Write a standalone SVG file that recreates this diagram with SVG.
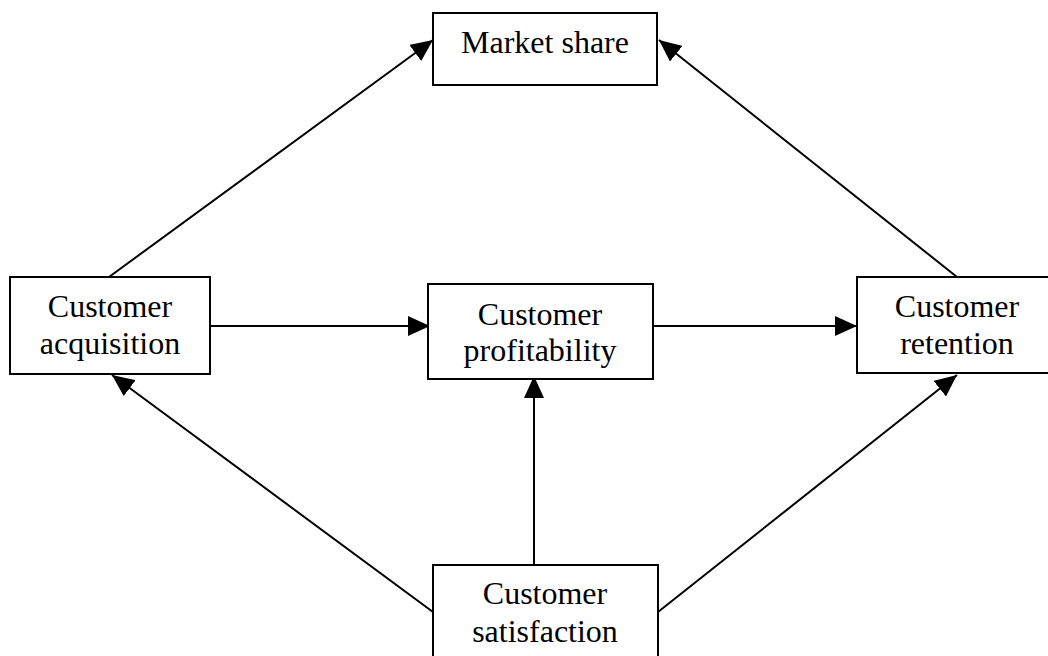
<svg xmlns="http://www.w3.org/2000/svg" width="1048" height="656" viewBox="0 0 1048 656">
  <defs>
    <style>
      .box { fill: #ffffff; stroke: #000000; stroke-width: 2; }
      .lbl { font-family: "Liberation Serif", "Times New Roman", serif; font-size: 32px; fill: #000000; text-anchor: middle; }
      .edge { stroke: #000000; stroke-width: 2; fill: none; marker-end: url(#arrow); }
    </style>
    <marker id="arrow" markerUnits="userSpaceOnUse" markerWidth="24" markerHeight="20" refX="22" refY="10" orient="auto">
      <path d="M0,0 L22,10 L0,20 z" fill="#000000"/>
    </marker>
  </defs>
  <rect width="1048" height="656" fill="#ffffff"/>

  <g id="connectors">
    <line class="edge" x1="109" y1="277" x2="433" y2="40"/>
    <line class="edge" x1="957" y1="277" x2="659" y2="40"/>
    <line class="edge" x1="210" y1="326" x2="430" y2="326"/>
    <line class="edge" x1="654" y1="326" x2="857" y2="326"/>
    <line class="edge" x1="534" y1="565" x2="534" y2="376"/>
    <line class="edge" x1="433" y1="612" x2="112" y2="375"/>
    <line class="edge" x1="658" y1="612" x2="957" y2="375"/>
  </g>

  <g id="market-share">
    <rect class="box" x="433" y="13" width="224" height="72"/>
    <text class="lbl" x="545" y="53">Market share</text>
  </g>

  <g id="customer-acquisition">
    <rect class="box" x="10" y="277" width="200" height="97"/>
    <text class="lbl" x="110" y="317">Customer</text>
    <text class="lbl" x="110" y="354">acquisition</text>
  </g>

  <g id="customer-profitability">
    <rect class="box" x="428" y="284" width="225" height="95"/>
    <text class="lbl" x="540" y="325">Customer</text>
    <text class="lbl" x="540" y="361">profitability</text>
  </g>

  <g id="customer-retention">
    <rect class="box" x="857" y="277" width="200" height="96"/>
    <text class="lbl" x="957" y="317">Customer</text>
    <text class="lbl" x="957" y="354">retention</text>
  </g>

  <g id="customer-satisfaction">
    <rect class="box" x="433" y="565" width="225" height="100"/>
    <text class="lbl" x="545" y="604">Customer</text>
    <text class="lbl" x="545" y="642">satisfaction</text>
  </g>
</svg>
